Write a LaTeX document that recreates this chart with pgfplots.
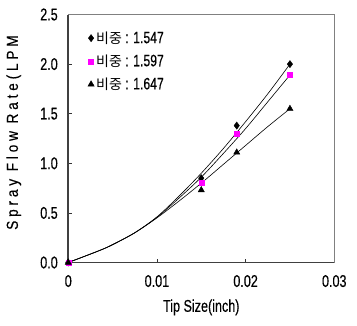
\documentclass[border=0pt]{standalone}
\usepackage{fontspec}
\setmainfont{Liberation Sans}[FakeStretch=0.74, FakeBold=0.4]
\newfontfamily\cjk{Noto Sans CJK KR}
\newfontfamily\ylabfont{Liberation Sans}[FakeStretch=0.85, FakeBold=0.4, LetterSpace=24]
\usepackage{pgfplots}
\pgfplotsset{compat=1.18}
\definecolor{mag}{RGB}{255,0,255}
\newcommand{\bj}{{\cjk\fontsize{14}{14}\selectfont 비중}}
\begin{document}
\begin{tikzpicture}[x=1pt,y=1pt]
\useasboundingbox (0,0) rectangle (357,326);
\begin{axis}[
  at={(77,64)}, anchor=south west,
  scale only axis, width=266pt, height=248pt,
  xmin=0, xmax=0.03, ymin=0, ymax=2.5,
  scaled x ticks=false, scaled y ticks=false,
  xtick={0,0.01,0.02,0.03}, xticklabels={0,0.01,0.02,0.03},
  ytick={0,0.5,1,1.5,2,2.5}, yticklabels={0.0,0.5,1.0,1.5,2.0,2.5},
  tick align=inside, xtick pos=bottom, ytick pos=left,
  major tick length=4pt,
  tick style={black!80, line width=0.7pt},
  axis line style={draw=gray, line width=1.4pt},
  ticklabel style={font=\fontsize{17}{17}\selectfont},
  xticklabel style={yshift=-9pt},
  yticklabel style={xshift=-7pt},
  /pgf/number format/assume math mode=true,
  xlabel={Tip Size(inch)},
  xlabel style={at={(axis description cs:0.5,-0.181)}, anchor=center, font=\fontsize{17}{17}\selectfont},
  ylabel={\ylabfont Spray Flow Rate(LPM},
  ylabel style={at={(axis description cs:-0.205,0.524)}, anchor=center, font=\fontsize{16}{16}\selectfont},
  legend style={draw=none, fill=none, at={(axis description cs:0.062,0.948)}, anchor=north west,
    font=\fontsize{16.5}{16.5}\selectfont, row sep=6pt},
  legend cell align=left,
  clip=false,
]
\addplot[black, line width=0.6pt, smooth, forget plot] coordinates {
(0,0) (0.0035,0.12) (0.005,0.18) (0.0075,0.30) (0.01,0.46) (0.0125,0.67) (0.015,0.90) (0.0175,1.15) (0.02,1.42) (0.0225,1.70) (0.025,2.00)};
\addplot[black, line width=0.6pt, smooth, forget plot] coordinates {
(0,0) (0.0035,0.12) (0.005,0.18) (0.0075,0.30) (0.01,0.455) (0.0125,0.65) (0.015,0.86) (0.0175,1.10) (0.02,1.35) (0.0225,1.62) (0.025,1.89)};
\addplot[black, line width=0.6pt, smooth, forget plot] coordinates {
(0,0) (0.0035,0.12) (0.005,0.18) (0.0075,0.30) (0.01,0.45) (0.0125,0.62) (0.015,0.80) (0.0175,0.99) (0.02,1.18) (0.0225,1.37) (0.025,1.55)};
\addplot[only marks, mark=diamond*, mark size=3.6pt, black] coordinates {
(0,0) (0.015,0.85) (0.019,1.38) (0.025,2.00)};
\addlegendentry{\bj\ : 1.547}
\addplot[only marks, mark=square*, mark size=2.5pt, draw=mag, fill=mag] coordinates {
(0,0) (0.015,0.80) (0.019,1.30) (0.025,1.89)};
\addlegendentry{\bj\ : 1.597}
\addplot[only marks, mark=triangle*, mark size=3.6pt, black] coordinates {
(0,0) (0.015,0.73) (0.019,1.11) (0.025,1.55)};
\addlegendentry{\bj\ : 1.647}
\draw[black!75, line width=1.6pt] (rel axis cs:0,1) -- (rel axis cs:0,0) -- (rel axis cs:1,0);
\end{axis}
\end{tikzpicture}
\end{document}
